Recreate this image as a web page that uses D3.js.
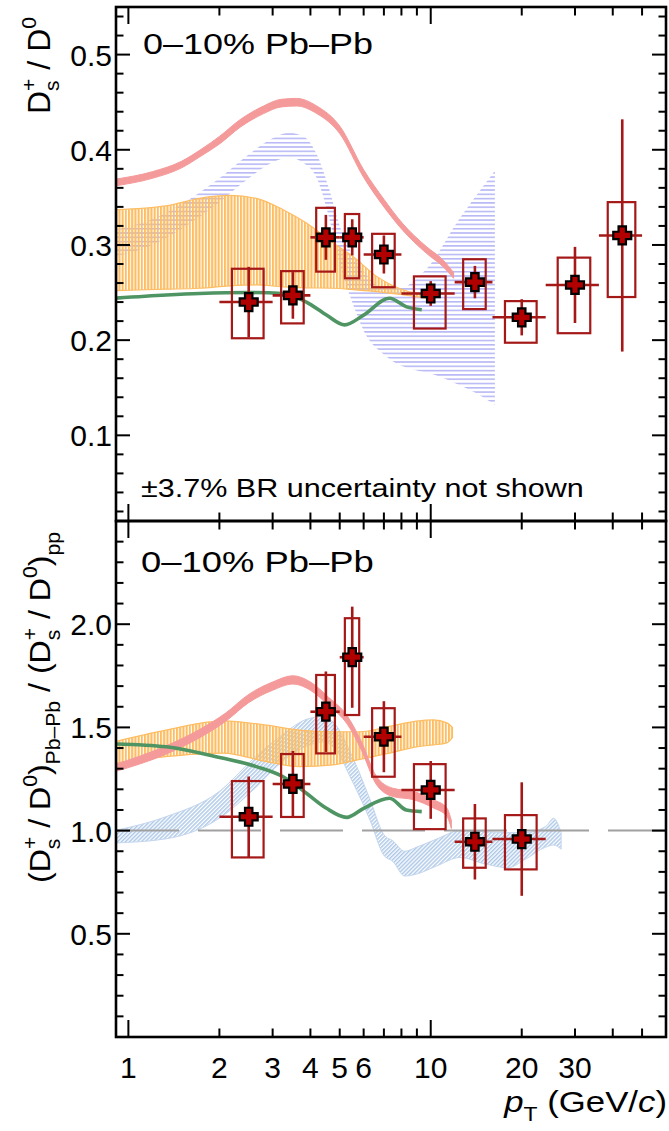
<!DOCTYPE html>
<html><head><meta charset="utf-8">
<script src="https://cdn.jsdelivr.net/npm/d3@7"></script>
<style>body{margin:0;background:#fff}svg{display:block}text{font-family:"Liberation Sans",Arial,Helvetica,sans-serif;fill:#000}</style>
</head><body><svg id="c" width="669" height="1131"></svg>
<script>
// ---------------- data ----------------
const ptCenter = [2.5, 3.5, 4.5, 5.5, 7, 10, 14, 20, 30, 43];
const ptLow    = [2, 3, 4, 5, 6, 8, 12, 16, 24, 36];
const ptHigh   = [3, 4, 5, 6, 8, 12, 16, 24, 36, 50];
const systHalfWidthPt = [0.3, 0.3, 0.32, 0.3, 0.6, 1.2, 1.2, 2.4, 3.7, 4.5];

// top panel: Ds+/D0 in 0-10% Pb-Pb
const ratioVal    = [0.240, 0.247, 0.308, 0.308, 0.290, 0.249, 0.261, 0.224, 0.258, 0.310];
const ratioStat   = [0.037, 0.0245, 0.0236, 0.019, 0.020, 0.013, 0.017, 0.019, 0.040, 0.122];
const ratioSystHi = [0.035, 0.0255, 0.031, 0.0245, 0.0217, 0.018, 0.024, 0.017, 0.0287, 0.035];
const ratioSystLo = [0.038, 0.0294, 0.036, 0.043, 0.0344, 0.0368, 0.0284, 0.0267, 0.0507, 0.0647];

// bottom panel: double ratio PbPb / pp (first 8 bins)
const dblVal    = [1.067, 1.226, 1.576, 1.840, 1.455, 1.197, 0.946, 0.959];
const dblStat   = [0.195, 0.160, 0.195, 0.245, 0.172, 0.140, 0.183, 0.275];
const dblSystHi = [0.173, 0.145, 0.178, 0.189, 0.138, 0.125, 0.113, 0.116];
const dblSystLo = [0.197, 0.160, 0.202, 0.280, 0.194, 0.190, 0.126, 0.147];

// model curves  [pT, low, high]  or [pT, value]
const pinkTop = [[0.9,0.362,0.369],[1.2,0.370,0.377],[1.5,0.381,0.388],[1.75,0.394,0.401],[2.0,0.406,0.414],[2.35,0.424,0.432],[2.8,0.438,0.446],[3.2,0.445,0.453],[3.6,0.446,0.454],[4.2,0.438,0.446],[5.0,0.417,0.425],[6.0,0.371,0.379],[7.0,0.340,0.348],[8.1,0.315,0.322],[9.7,0.291,0.298],[11.0,0.277,0.284],[11.9,0.265,0.271]];
const orangeTop = [[0.9,0.252,0.337],[1.33,0.2535,0.341],[1.72,0.2545,0.349],[2.16,0.257,0.352],[2.65,0.258,0.349],[3.25,0.256,0.337],[3.88,0.255,0.323],[4.76,0.2545,0.302],[5.53,0.253,0.288],[6.62,0.251,0.267],[7.92,0.248,0.254],[9.28,0.245,0.248],[10,0.243,0.246]];
const blueTop = [[0.9,0.288,0.316],[1.2,0.300,0.327],[1.5,0.317,0.343],[2.0,0.345,0.370],[2.5,0.370,0.395],[3.0,0.387,0.412],[3.4,0.392,0.418],[3.8,0.386,0.414],[4.2,0.370,0.395],[4.6,0.330,0.360],[5.0,0.280,0.320],[5.5,0.240,0.290],[6.0,0.210,0.272],[7.0,0.185,0.255],[8.0,0.173,0.255],[9.0,0.168,0.265],[10,0.165,0.280],[12,0.155,0.320],[14,0.145,0.350],[16.3,0.132,0.378]];
const greenTop = [[0.9,0.244],[1.335,0.2474],[1.72,0.249],[2.52,0.250],[3.25,0.249],[3.88,0.240],[4.52,0.2264],[5.19,0.216],[5.98,0.226],[7.3,0.244],[8.32,0.235],[9.34,0.232]];

const pinkBot = [[0.9,1.285,1.32],[1.33,1.37,1.41],[1.72,1.45,1.49],[2.1,1.53,1.57],[2.5,1.62,1.66],[3.0,1.68,1.72],[3.5,1.71,1.75],[4.0,1.68,1.72],[4.6,1.605,1.645],[5.3,1.515,1.555],[5.9,1.39,1.43],[6.6,1.225,1.265],[7.5,1.165,1.205],[8.75,1.15,1.19],[10.2,1.11,1.15],[11.3,1.07,1.11],[11.7,1.01,1.05]];
const orangeBot = [[0.9,1.326,1.431],[1.33,1.358,1.487],[2.06,1.375,1.532],[2.86,1.334,1.511],[3.68,1.310,1.487],[4.75,1.318,1.479],[5.83,1.345,1.479],[7.3,1.375,1.505],[8.97,1.406,1.530],[10.2,1.415,1.536],[11.3,1.425,1.522],[11.8,1.450,1.500]];
const blueBot = [[0.9,0.94,1.00],[1.33,0.96,1.067],[2.0,1.06,1.19],[2.6,1.20,1.35],[3.2,1.33,1.46],[3.9,1.41,1.54],[4.4,1.43,1.552],[4.8,1.40,1.52],[5.5,1.24,1.36],[6.3,1.05,1.15],[7.0,0.88,0.98],[7.5,0.85,0.95],[8.2,0.78,0.90],[9.0,0.79,0.92],[10.5,0.83,0.96],[12.5,0.87,1.00],[15,0.84,0.995],[18,0.82,0.99],[20.5,0.86,0.99],[24,0.92,1.02],[25.5,0.93,1.06],[27,0.91,0.99]];
const greenBot = [[0.9,1.420],[1.335,1.406],[1.95,1.358],[2.65,1.310],[3.25,1.261],[3.88,1.181],[4.52,1.108],[5.27,1.064],[6.0,1.108],[7.3,1.157],[8.3,1.100],[9.34,1.092]];

const xMajorTicks = [1, 10];
const xMinorTicks = [2,3,4,5,6,7,8,9,20,30,40,50];
const xTickLabels = [1,2,3,4,5,6,10,20,30];
const yTopMajor = [0.1,0.2,0.3,0.4,0.5];
const yTopMinor = [0.02,0.04,0.06,0.08,0.12,0.14,0.16,0.18,0.22,0.24,0.26,0.28,0.32,0.34,0.36,0.38,0.42,0.44,0.46,0.48,0.52,0.54];
const yBotMajor = [0.5,1.0,1.5,2.0];
const yBotMinor = [0.1,0.2,0.3,0.4,0.6,0.7,0.8,0.9,1.1,1.2,1.3,1.4,1.6,1.7,1.8,1.9,2.1,2.2,2.3,2.4];

// ---------------- layout ----------------
const xL=116, xR=666, yTop=7, yMid=521, yBot=1037;
const svg = d3.select('#c');
const x = d3.scaleLog().domain([0.91,60]).range([xL,xR]);
const yT = d3.scaleLinear().domain([0.01,0.55]).range([yMid,yTop]);
const yB = d3.scaleLinear().domain([0,2.5]).range([yBot,yMid]);

const defs = svg.append('defs');
defs.append('clipPath').attr('id','clipT').append('rect').attr('x',xL).attr('y',yTop).attr('width',xR-xL).attr('height',yMid-yTop);
defs.append('clipPath').attr('id','clipB').append('rect').attr('x',xL).attr('y',yMid).attr('width',xR-xL).attr('height',yBot-yMid);
const pO = defs.append('pattern').attr('id','hatchOrange').attr('patternUnits','userSpaceOnUse').attr('width',3.2).attr('height',10);
pO.append('rect').attr('x',0).attr('y',0).attr('width',2.1).attr('height',10).attr('fill','#fdbd63');
const pH = defs.append('pattern').attr('id','hatchLav').attr('patternUnits','userSpaceOnUse').attr('width',10).attr('height',4.3);
pH.append('rect').attr('x',0).attr('y',0).attr('width',10).attr('height',1.6).attr('fill','#b8b8f6');
const pD = defs.append('pattern').attr('id','hatchBlue').attr('patternUnits','userSpaceOnUse').attr('width',2.8).attr('height',10).attr('patternTransform','rotate(45)');
pD.append('rect').attr('x',0).attr('y',0).attr('width',1.5).attr('height',10).attr('fill','#aec8e8');

function panel(ys, clipId, bands, data) {
  const g = svg.append('g').attr('clip-path',`url(#${clipId})`);
  const area = d3.area().x(d=>x(d[0])).y0(d=>ys(d[1])).y1(d=>ys(d[2])).curve(d3.curveMonotoneX);
  const line = d3.line().x(d=>x(d[0])).y(d=>ys(d[1])).curve(d3.curveMonotoneX);
  bands.forEach(b => {
    if (b.type==='area') g.append('path').attr('d',area(b.data)).attr('fill',b.fill).attr('stroke',b.stroke||'none').attr('stroke-width',b.sw||0);
    else if (b.type==='line') g.append('path').attr('d',line(b.data)).attr('fill','none').attr('stroke',b.stroke).attr('stroke-width',b.sw);
    else if (b.type==='hline') g.append('line').attr('x1',xL).attr('x2',xR).attr('y1',ys(b.v)).attr('y2',ys(b.v)).attr('stroke','#a0a0a0').attr('stroke-width',2).attr('stroke-dasharray','63,19');
  });
  const dc = '#a51818';
  const n = data.val.length;
  const idx = d3.range(n);
  g.selectAll(null).data(idx).join('rect')
    .attr('x', i=>x(ptCenter[i]-systHalfWidthPt[i]))
    .attr('width', i=>x(ptCenter[i]+systHalfWidthPt[i]) - x(ptCenter[i]-systHalfWidthPt[i]))
    .attr('y', i=>ys(data.val[i]+data.sHi[i]))
    .attr('height', i=>ys(data.val[i]-data.sLo[i]) - ys(data.val[i]+data.sHi[i]))
    .attr('fill','none').attr('stroke',dc).attr('stroke-width',2.2);
  g.selectAll(null).data(idx).join('line')
    .attr('x1',i=>x(ptLow[i])).attr('x2',i=>x(ptHigh[i]))
    .attr('y1',i=>ys(data.val[i])).attr('y2',i=>ys(data.val[i]))
    .attr('stroke',dc).attr('stroke-width',2.6);
  g.selectAll(null).data(idx).join('line')
    .attr('x1',i=>x(ptCenter[i])).attr('x2',i=>x(ptCenter[i]))
    .attr('y1',i=>ys(data.val[i]+data.stat[i])).attr('y2',i=>ys(data.val[i]-data.stat[i]))
    .attr('stroke',dc).attr('stroke-width',2.6);
  const s=9, t=3.7;
  const cross = `M${-t},${-s}H${t}V${-t}H${s}V${t}H${t}V${s}H${-t}V${t}H${-s}V${-t}H${-t}Z`;
  g.selectAll(null).data(idx).join('path')
    .attr('d',cross)
    .attr('transform',i=>`translate(${x(ptCenter[i])},${ys(data.val[i])})`)
    .attr('fill','#b00000').attr('stroke','#000').attr('stroke-width',2.2);
}

panel(yT,'clipT',[
  {type:'area',data:blueTop,fill:'url(#hatchLav)'},
  {type:'area',data:orangeTop,fill:'url(#hatchOrange)',stroke:'#fdbd63',sw:1.2},
  {type:'area',data:pinkTop,fill:'#f59a9a',stroke:'#f59a9a',sw:1},
  {type:'line',data:greenTop,stroke:'#4f9563',sw:3.6}
],{val:ratioVal,stat:ratioStat,sHi:ratioSystHi,sLo:ratioSystLo});

panel(yB,'clipB',[
  {type:'area',data:blueBot,fill:'url(#hatchBlue)',stroke:'#c4d6ee',sw:1},
  {type:'area',data:orangeBot,fill:'url(#hatchOrange)',stroke:'#fdbd63',sw:1.2},
  {type:'area',data:pinkBot,fill:'#f59a9a',stroke:'#f59a9a',sw:1},
  {type:'line',data:greenBot,stroke:'#4f9563',sw:3.6},
  {type:'hline',v:1.0}
],{val:dblVal,stat:dblStat,sHi:dblSystHi,sLo:dblSystLo});

// ---------------- frames & ticks ----------------
const ax = svg.append('g').attr('stroke','#000').attr('stroke-width',2);
function xticks(yEdge, dir) {
  xMajorTicks.forEach(v=>ax.append('line').attr('x1',x(v)).attr('x2',x(v)).attr('y1',yEdge).attr('y2',yEdge+dir*17));
  xMinorTicks.forEach(v=>ax.append('line').attr('x1',x(v)).attr('x2',x(v)).attr('y1',yEdge).attr('y2',yEdge+dir*8.5));
}
xticks(yTop,1); xticks(yMid,-1); xticks(yMid,1); xticks(yBot,-1);
function yticks(ys, major, minor) {
  major.forEach(v=>{ax.append('line').attr('x1',xL).attr('x2',xL+14).attr('y1',ys(v)).attr('y2',ys(v));
                    ax.append('line').attr('x1',xR).attr('x2',xR-14).attr('y1',ys(v)).attr('y2',ys(v));});
  minor.forEach(v=>{ax.append('line').attr('x1',xL).attr('x2',xL+7.5).attr('y1',ys(v)).attr('y2',ys(v));
                    ax.append('line').attr('x1',xR).attr('x2',xR-7.5).attr('y1',ys(v)).attr('y2',ys(v));});
}
yticks(yT, yTopMajor, yTopMinor);
yticks(yB, yBotMajor, yBotMinor);
svg.append('rect').attr('x',xL).attr('y',yTop).attr('width',xR-xL).attr('height',yMid-yTop).attr('fill','none').attr('stroke','#000').attr('stroke-width',2.6);
svg.append('rect').attr('x',xL).attr('y',yMid).attr('width',xR-xL).attr('height',yBot-yMid).attr('fill','none').attr('stroke','#000').attr('stroke-width',2.6);

// tick labels
const fs = 30;
svg.selectAll(null).data(yTopMajor).join('text').attr('x',112).attr('y',d=>yT(d)+11).attr('text-anchor','end').attr('font-size',fs).text(d=>d.toFixed(1));
svg.selectAll(null).data(yBotMajor).join('text').attr('x',112).attr('y',d=>yB(d)+11).attr('text-anchor','end').attr('font-size',fs).text(d=>d.toFixed(1));
svg.selectAll(null).data(xTickLabels).join('text').attr('x',d=>x(d)).attr('y',1078).attr('text-anchor','middle').attr('font-size',fs).text(d=>d);

// ---------------- rich text helper ----------------
function rich(parent, segs, size, anchor) {
  const t = parent.append('text').attr('font-size',size).attr('text-anchor',anchor||'start');
  let cur = 0, prev = null;
  segs.forEach(([str, kind, style]) => {
    const target = kind==='sub' ? 0.32*size : (kind==='sup'||kind==='supover') ? -0.42*size : 0;
    const sp = t.append('tspan').text(str).attr('dy', target-cur);
    if (kind!=='n') sp.attr('font-size', 0.66*size);
    if (style==='i') sp.attr('font-style','italic');
    if (kind==='supover' && prev) sp.attr('dx', -prev.node().getComputedTextLength());
    cur = target; prev = sp;
  });
  return t;
}
function placeFit(segs, size, tx, ty, rot, anchor, targetLen) {
  const g = svg.append('g');
  const t = rich(g, segs, size, anchor);
  const w = t.node().getBBox().width;
  const s = targetLen ? targetLen / w : 1;
  g.attr('transform', `translate(${tx},${ty}) rotate(${rot}) scale(${s},1)`);
  return g;
}

placeFit([['0–10% Pb–Pb','n']], 29, 143, 53.5, 0, 'start', 230);
placeFit([['0–10% Pb–Pb','n']], 29, 141, 571.7, 0, 'start', 233);
placeFit([['±3.7% BR uncertainty not shown','n']], 25.5, 141, 497, 0, 'start', 443);

placeFit([['D','n'],['s','sub'],['+','supover'],[' / D','n'],['0','sup']], 31, 49.5, 17, -90, 'end', 97);
placeFit([['(D','n'],['s','sub'],['+','supover'],[' / D','n'],['0','sup'],[')','n'],['Pb–Pb','sub'],[' / (D','n'],['s','sub'],['+','supover'],[' / D','n'],['0','sup'],[')','n'],['pp','sub']], 30, 50, 532, -90, 'end', 351);

placeFit([['p','n','i'],['T','sub'],[' (GeV/','n'],['c','n','i'],[')','n']], 30, 667, 1111.5, 0, 'end', 164);
</script>
</body></html>
